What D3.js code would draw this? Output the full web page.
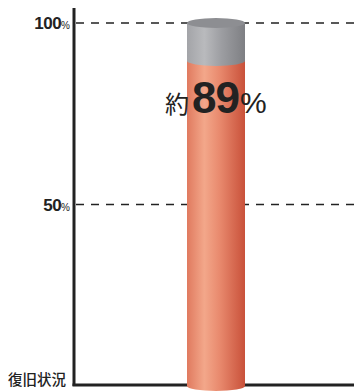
<!DOCTYPE html>
<html>
<head>
<meta charset="utf-8">
<script src="https://cdn.jsdelivr.net/npm/d3@7"></script>
<style>
  body { margin: 0; background: #fff; }
  svg { display: block; }
</style>
</head>
<body>
<svg id="chart" width="354" height="392"></svg>
<script>
// data
const categories = ['復旧状況'];
const values = [89];
const ticks = [50, 100];
const valuePrefix = '約';

const latin = 'Liberation Sans, Arial, sans-serif';
const cjk = 'Noto Sans CJK JP, sans-serif';

const svg = d3.select('#chart');
const width = +svg.attr('width');

const x0 = 74, baseY = 386, topY = 23;
const y = d3.scaleLinear().domain([0, 100]).range([baseY, topY]);
const x = d3.scaleBand().domain(categories).range([187, 245]);

const defs = svg.append('defs');
const orange = defs.append('linearGradient').attr('id', 'gOrange');
[['0%', '#e07a5f'], ['30%', '#f3a78a'], ['55%', '#e98b6f'], ['100%', '#c9513a']].forEach(s =>
  orange.append('stop').attr('offset', s[0]).attr('stop-color', s[1]));
const gray = defs.append('linearGradient').attr('id', 'gGray');
[['0%', '#a3a4a8'], ['30%', '#b9babd'], ['60%', '#9c9da1'], ['100%', '#7e7f83']].forEach(s =>
  gray.append('stop').attr('offset', s[0]).attr('stop-color', s[1]));

// dashed gridlines
svg.selectAll('.grid')
  .data(ticks)
  .enter().append('line')
  .attr('x1', x0 + 2).attr('x2', width)
  .attr('y1', d => y(d)).attr('y2', d => y(d))
  .attr('stroke', '#222').attr('stroke-width', 1.3)
  .attr('stroke-dasharray', '8,7');

// tick labels
const tl = svg.selectAll('.tl')
  .data(ticks)
  .enter().append('text')
  .attr('x', 70).attr('y', d => y(d) + 6)
  .attr('text-anchor', 'end')
  .attr('font-family', latin)
  .attr('fill', '#222');
tl.append('tspan').attr('font-size', 17).attr('font-weight', 'bold').attr('letter-spacing', -0.5).text(d => d);
tl.append('tspan').attr('font-size', 10).text('%');

// axes
svg.append('line').attr('x1', x0).attr('x2', x0).attr('y1', 8).attr('y2', baseY)
  .attr('stroke', '#222').attr('stroke-width', 3);
svg.append('line').attr('x1', x0 - 1.5).attr('x2', width).attr('y1', baseY - 1).attr('y2', baseY - 1)
  .attr('stroke', '#222').attr('stroke-width', 3);

svg.append('text').attr('x', 66).attr('y', baseY - 1)
  .attr('text-anchor', 'end').attr('font-size', 14.5).attr('font-weight', 500)
  .attr('fill', '#222')
  .attr('font-family', cjk)
  .text(categories[0]);

// cylinder
const ry = 5;
categories.forEach((c, i) => {
  const cx = x(c) + x.bandwidth() / 2, rx = x.bandwidth() / 2;
  const xl = x(c), xr = x(c) + x.bandwidth();
  const yv = y(values[i]) - 2;
  const g = svg.append('g');
  // orange body
  g.append('path')
    .attr('d', `M${xl},${yv} L${xl},${baseY} A${rx},${ry} 0 0 0 ${xr},${baseY} L${xr},${yv} Z`)
    .attr('fill', 'url(#gOrange)');
  // gray (remaining) body
  g.append('path')
    .attr('d', `M${xl},${y(100)} L${xl},${yv} A${rx},${ry} 0 0 0 ${xr},${yv} L${xr},${y(100)} Z`)
    .attr('fill', 'url(#gGray)');
  // top cap
  g.append('ellipse').attr('cx', cx).attr('cy', y(100)).attr('rx', rx).attr('ry', ry)
    .attr('fill', '#8d8e92');

  const t = svg.append('text').attr('x', cx - 51).attr('y', 113).attr('fill', '#222')
    .attr('font-family', latin);
  t.append('tspan').attr('font-size', 24).attr('font-family', cjk).text(valuePrefix);
  t.append('tspan').attr('font-size', 44).attr('font-weight', 'bold').attr('dx', 3).attr('letter-spacing', -1).text(values[i]);
  t.append('tspan').attr('font-size', 30).attr('dx', 1).text('%');
});
</script>
</body>
</html>
